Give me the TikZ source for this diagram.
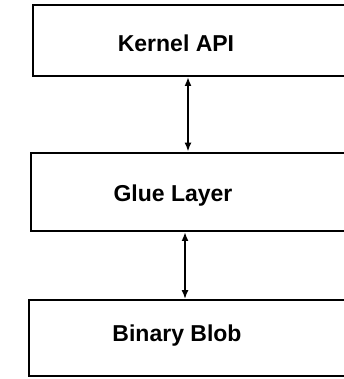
\documentclass[tikz,border=0pt]{standalone}
\usepackage{fontspec}
\setmainfont{Liberation Sans}
\usetikzlibrary{arrows.meta}
\begin{document}
\begin{tikzpicture}[x=1pt,y=1pt,
  layerbox/.style={draw=black,line width=2.4pt,rectangle,inner sep=0pt,anchor=south west},
  layertext/.style={font=\bfseries\fontsize{23}{26}\selectfont,inner sep=0pt,anchor=center},
  biarrow/.style={line width=2.6pt,{Latex[length=9pt,width=7pt]}-{Latex[length=9pt,width=7pt]}}]
\useasboundingbox (0,0) rectangle (344,379);
\clip (0,0) rectangle (344,379);
\node[layerbox,minimum width=340pt,minimum height=71pt] (k) at (32,302) {};
\node[layerbox,minimum width=340pt,minimum height=78pt] (g) at (30,147) {};
\node[layerbox,minimum width=340pt,minimum height=76pt] (b) at (28,1.5) {};
\node[layertext] (kt) at (176,336) {Kernel API};
\node[layertext] (gt) at (173,183) {Glue Layer};
\node[layertext] (bt) at (177,43) {Binary Blob};
\coordinate (a1) at (188,0);
\coordinate (a2) at (185,0);
\draw[biarrow] (k.south -| a1) -- (g.north -| a1);
\draw[biarrow] (g.south -| a2) -- (b.north -| a2);
\end{tikzpicture}
\end{document}
